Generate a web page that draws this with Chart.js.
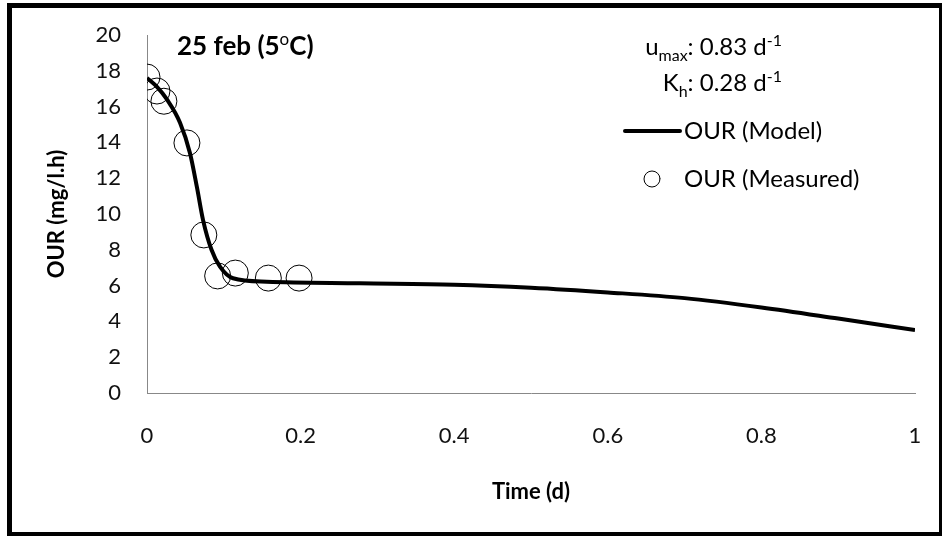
<!DOCTYPE html>
<html>
<head>
<meta charset="utf-8">
<script src="https://cdn.jsdelivr.net/npm/chart.js@4/dist/chart.umd.min.js"></script>
<style>
  html, body { margin: 0; padding: 0; background: #fff; }
  #wrap { width: 942px; height: 536px; }
</style>
</head>
<body>
<div id="wrap"><canvas id="our"></canvas></div>
<script>
// OUR data, 25 feb run
var modelTime = [0, 0.013, 0.026, 0.043, 0.056, 0.065, 0.073, 0.084, 0.095, 0.112, 0.156, 0.277, 0.4, 0.5, 0.6, 0.7, 0.8, 0.9, 1.0];
var modelOUR  = [17.6, 17.1, 16.4, 15.1, 13.4, 11.5, 9.66, 8.0, 7.06, 6.41, 6.22, 6.13, 6.05, 5.88, 5.62, 5.3, 4.78, 4.16, 3.52];

var measTime = [0, 0.013, 0.022, 0.052, 0.074, 0.092, 0.115, 0.158, 0.198];
var measOUR  = [17.65, 16.87, 16.3, 13.97, 8.83, 6.54, 6.7, 6.42, 6.42];

var xTicks = [0, 0.2, 0.4, 0.6, 0.8, 1];
var yTicks = [0, 2, 4, 6, 8, 10, 12, 14, 16, 18, 20];

var FONT = 'Lato, "Open Sans", sans-serif';

function pts(xs, ys) {
    return xs.map(function (x, i) { return { x: x, y: ys[i] }; });
}

// draws text made of pieces, some as sub/superscript; align 'left' or 'right'
function richText(ctx, parts, x, y, size, align) {
    var small = Math.round(size * 0.65);
    var w = 0;
    parts.forEach(function (p) {
        ctx.font = (p.bold ? 'bold ' : '') + (p.sub || p.sup ? small : size) + 'px ' + FONT;
        p.w = ctx.measureText(p.t).width;
        w += p.w;
    });
    var cx = align === 'right' ? x - w : x;
    ctx.textAlign = 'left';
    ctx.textBaseline = 'alphabetic';
    parts.forEach(function (p) {
        ctx.font = (p.bold ? 'bold ' : '') + (p.sub || p.sup ? small : size) + 'px ' + FONT;
        var dy = p.sub ? size * 0.25 : (p.sup ? -size * 0.38 : 0);
        ctx.fillText(p.t, cx, y + dy);
        cx += p.w;
    });
}

var extras = {
    id: 'extras',
    afterDraw: function (chart) {
        var ctx = chart.ctx;
        ctx.save();
        ctx.fillStyle = '#000';

        // heading
        richText(ctx, [{ t: '25 feb (5', bold: true }, { t: 'o', sup: true }, { t: 'C)', bold: true }], 177, 55, 26, 'left');

        // parameters
        richText(ctx, [{ t: 'u' }, { t: 'max', sub: true }, { t: ': 0.83 d' }, { t: '-1', sup: true }], 782, 55, 24, 'right');
        richText(ctx, [{ t: 'K' }, { t: 'h', sub: true }, { t: ': 0.28 d' }, { t: '-1', sup: true }], 782, 91, 24, 'right');

        // legend
        ctx.strokeStyle = '#000';
        ctx.lineWidth = 4;
        ctx.lineCap = 'round';
        ctx.beginPath();
        ctx.moveTo(625, 131);
        ctx.lineTo(680, 131);
        ctx.stroke();
        ctx.lineWidth = 1;
        ctx.beginPath();
        ctx.arc(652, 179, 8, 0, Math.PI * 2);
        ctx.stroke();
        ctx.font = '24px ' + FONT;
        ctx.textBaseline = 'middle';
        ctx.fillText('OUR (Model)', 684, 131);
        ctx.fillText('OUR (Measured)', 684, 179);

        // frame
        ctx.fillRect(7, 3, 935, 5);
        ctx.fillRect(7, 3, 5, 533);
        ctx.fillRect(7, 532, 935, 4);
        ctx.fillRect(939, 3, 3, 533);
        ctx.restore();
    }
};

var ctx = document.getElementById('our').getContext('2d');
var ourChart = new Chart(ctx, {
    type: 'scatter',
    data: {
        datasets: [{
            label: 'OUR (Model)',
            data: pts(modelTime, modelOUR),
            showLine: true,
            borderColor: '#000',
            borderWidth: 4,
            pointRadius: 0,
            cubicInterpolationMode: 'monotone'
        }, {
            label: 'OUR (Measured)',
            data: pts(measTime, measOUR),
            pointStyle: 'circle',
            pointRadius: 13,
            pointBorderWidth: 1,
            borderColor: '#000',
            backgroundColor: 'rgba(0,0,0,0)'
        }]
    },
    options: {
        responsive: true,
        maintainAspectRatio: false,
        animation: false,
        layout: { autoPadding: false, padding: { left: 0, top: 35, right: 27, bottom: 0 } },
        plugins: {
            legend: { display: false },
            tooltip: { enabled: false }
        },
        scales: {
            x: {
                type: 'linear',
                min: 0,
                max: 1,
                afterBuildTicks: function (s) { s.ticks = xTicks.map(function (v) { return { value: v }; }); },
                afterFit: function (s) { s.height = 143; s.paddingLeft = 0; s.paddingRight = 0; },
                grid: { drawOnChartArea: false, drawTicks: false },
                border: { color: '#888', width: 1 },
                ticks: {
                    color: '#111', font: { family: FONT, size: 22 }, padding: 30, maxRotation: 0,
                    callback: function (v) { return String(Math.round(v * 10) / 10); }
                },
                title: {
                    display: true, text: 'Time (d)', color: '#000',
                    font: { family: FONT, size: 22, weight: 'bold' },
                    padding: { top: 0, bottom: 31 }
                }
            },
            y: {
                min: 0,
                max: 20,
                afterBuildTicks: function (s) { s.ticks = yTicks.map(function (v) { return { value: v }; }); },
                afterFit: function (s) { s.width = 147; s.paddingTop = 0; s.paddingBottom = 0; },
                grid: { drawOnChartArea: false, drawTicks: false },
                border: { color: '#888', width: 1 },
                ticks: { color: '#111', font: { family: FONT, size: 22 }, padding: 26 },
                title: {
                    display: true, text: 'OUR (mg/l.h)', color: '#000',
                    font: { family: FONT, size: 22, weight: 'bold' },
                    padding: { top: 44, bottom: 0 }
                }
            }
        }
    },
    plugins: [extras]
});
</script>
</body>
</html>
